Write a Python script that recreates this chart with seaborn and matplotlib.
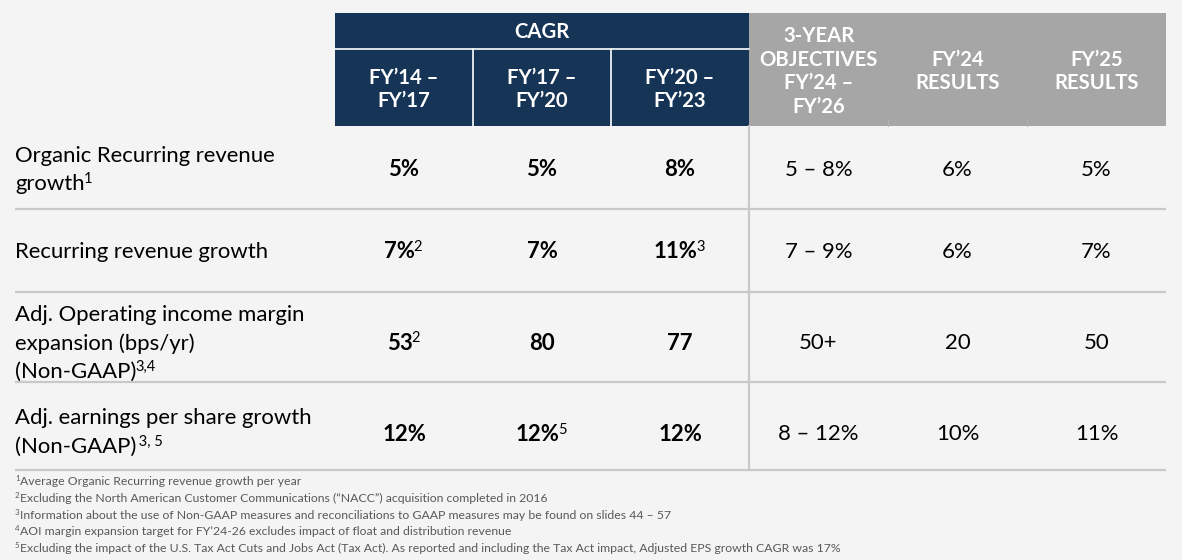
import matplotlib
matplotlib.use("Agg")
import matplotlib.pyplot as plt
from matplotlib.patches import Rectangle
import seaborn as sns

# ---------------- data ----------------
cagr_title = "CAGR"
col_headers = ["FY’14 –\nFY’17", "FY’17 –\nFY’20", "FY’20 –\nFY’23",
               "3-YEAR\nOBJECTIVES\nFY’24 –\nFY’26", "FY’24\nRESULTS", "FY’25\nRESULTS"]
row_labels = [["Organic Recurring revenue", "growth"],
              ["Recurring revenue growth"],
              ["Adj. Operating income margin", "expansion (bps/yr)", "(Non-GAAP)"],
              ["Adj. earnings per share growth", "(Non-GAAP)"]]
row_label_sups = ["1", "", "3,4", " 3, 5"]

cagr_14_17 = ["5%", "7%", "53", "12%"]
cagr_14_17_sup = ["", "2", "2", ""]
cagr_17_20 = ["5%", "7%", "80", "12%"]
cagr_17_20_sup = ["", "", "", "5"]
cagr_20_23 = ["8%", "11%", "77", "12%"]
cagr_20_23_sup = ["", "3", "", ""]
objectives_24_26 = ["5 – 8%", "7 – 9%", "50+", "8 – 12%"]
results_fy24 = ["6%", "6%", "20", "10%"]
results_fy25 = ["5%", "7%", "50", "11%"]

footnotes = [
    ("1", "Average Organic Recurring revenue growth per year"),
    ("2", "Excluding the North American Customer Communications (“NACC”) acquisition completed in 2016"),
    ("3", "Information about the use of Non-GAAP measures and reconciliations to GAAP measures may be found on slides 44 – 57"),
    ("4", "AOI margin expansion target for FY’24-26 excludes impact of float and distribution revenue"),
    ("5", "Excluding the impact of the U.S. Tax Act Cuts and Jobs Act (Tax Act). As reported and including the Tax Act impact, Adjusted EPS growth CAGR was 17%"),
]

# ---------------- style ----------------
sns.set_theme(style="white")
FONT = ["Lato", "DejaVu Sans"]
plt.rcParams["font.family"] = FONT
BG = "#F4F4F4"
NAVY = "#163456"
GREY = "#A6A6A6"
LINE = "#C9C9C9"
TXT = "#000000"

W, H = 1182, 560
fig = plt.figure(figsize=(W / 100, H / 100), dpi=100, facecolor=BG)
ax = fig.add_axes([0, 0, 1, 1])
ax.set_facecolor(BG)
ax.set_xlim(0, W)
ax.set_ylim(H, 0)
ax.axis("off")
renderer = fig.canvas.get_renderer()

# layout
x0_nav, x1_nav, x1_grey = 335, 749, 1166
col_w = (x1_nav - x0_nav) / 3
gcol_w = (x1_grey - x1_nav) / 3
col_edges = [x0_nav + i * col_w for i in range(4)] + [x1_nav + i * gcol_w for i in range(1, 4)]
col_centers = [(col_edges[i] + col_edges[i + 1]) / 2 for i in range(6)]
head_top, cagr_bot, head_bot = 13, 49, 126
row_lines = [209, 292, 382, 470]
label_centers = [170, 252, 343.5, 432.5]
value_centers = [169.5, 252, 343, 434.5]
left_x = 15
FS = 15.9
HFS = 14.6
SUPFS = 10.5
LINE_H = 28.5

# header blocks
ax.add_patch(Rectangle((x0_nav, head_top), x1_nav - x0_nav, head_bot - head_top, color=NAVY, lw=0))
ax.add_patch(Rectangle((x1_nav, head_top), x1_grey - x1_nav, head_bot - head_top, color=GREY, lw=0))
ax.plot([x0_nav, x1_nav], [cagr_bot, cagr_bot], color="white", lw=1.2)
for xe in col_edges[1:3]:
    ax.plot([xe, xe], [cagr_bot, head_bot], color="white", lw=1.2)
for xe in col_edges[4:6]:
    ax.plot([xe, xe], [head_bot - 6, head_bot], color="#B4B4B4", lw=0.8)

ax.text((x0_nav + x1_nav) / 2, (head_top + cagr_bot) / 2 + 1.5, cagr_title, color="white",
        fontsize=HFS, fontweight="bold", ha="center", va="center")
for i, h in enumerate(col_headers):
    yc = (cagr_bot + head_bot) / 2 + 2 if i < 3 else (head_top + head_bot) / 2 + 2
    ax.text(col_centers[i], yc, h, color="white", fontsize=HFS, fontweight="bold",
            ha="center", va="center", linespacing=1.22)

# grid lines
for yl in row_lines:
    ax.plot([left_x, x1_grey], [yl, yl], color=LINE, lw=1.6, solid_capstyle="butt")
ax.plot([x1_nav, x1_nav], [head_bot, row_lines[-1]], color=LINE, lw=1.6)


def width_of(t):
    bb = t.get_window_extent(renderer)
    return bb.width


def value_with_sup(xc, yc, main, sup, bold):
    t = ax.text(xc, yc, main, fontsize=FS, fontweight="bold" if bold else "normal",
                ha="left", va="center", color=TXT)
    wm = width_of(t)
    ws = 0
    s = None
    if sup:
        s = ax.text(xc, yc - 5, sup, fontsize=SUPFS, ha="left", va="center", color=TXT)
        ws = width_of(s)
    start = xc - (wm + ws) / 2
    t.set_x(start)
    if s is not None:
        s.set_x(start + wm - 1.5)


# row labels
for r, lines in enumerate(row_labels):
    n = len(lines)
    for k, line in enumerate(lines):
        y = label_centers[r] + (k - (n - 1) / 2) * LINE_H
        t = ax.text(left_x, y, line, fontsize=FS, ha="left", va="center", color=TXT)
        if k == n - 1 and row_label_sups[r]:
            w = width_of(t)
            ax.text(left_x + w - 1, y - 5, row_label_sups[r], fontsize=SUPFS,
                    ha="left", va="center", color=TXT)

# values
bold_cols = [(cagr_14_17, cagr_14_17_sup), (cagr_17_20, cagr_17_20_sup), (cagr_20_23, cagr_20_23_sup)]
for c, (vals, sups) in enumerate(bold_cols):
    for r in range(4):
        value_with_sup(col_centers[c], value_centers[r], vals[r], sups[r], True)
for c, vals in enumerate([objectives_24_26, results_fy24, results_fy25]):
    for r in range(4):
        ax.text(col_centers[3 + c], value_centers[r], vals[r], fontsize=FS, ha="center",
                va="center", color=TXT)

# footnotes
fn_y0, fn_dy = 481.5, 16.8
for i, (num, txt) in enumerate(footnotes):
    y = fn_y0 + i * fn_dy
    s = ax.text(left_x, y - 3, num, fontsize=5.8, ha="left", va="center", color="#595959")
    w = width_of(s)
    ax.text(left_x + w, y, txt, fontsize=8.8, ha="left", va="center", color="#595959")

fig.savefig("out.png", dpi=100, facecolor=BG)
